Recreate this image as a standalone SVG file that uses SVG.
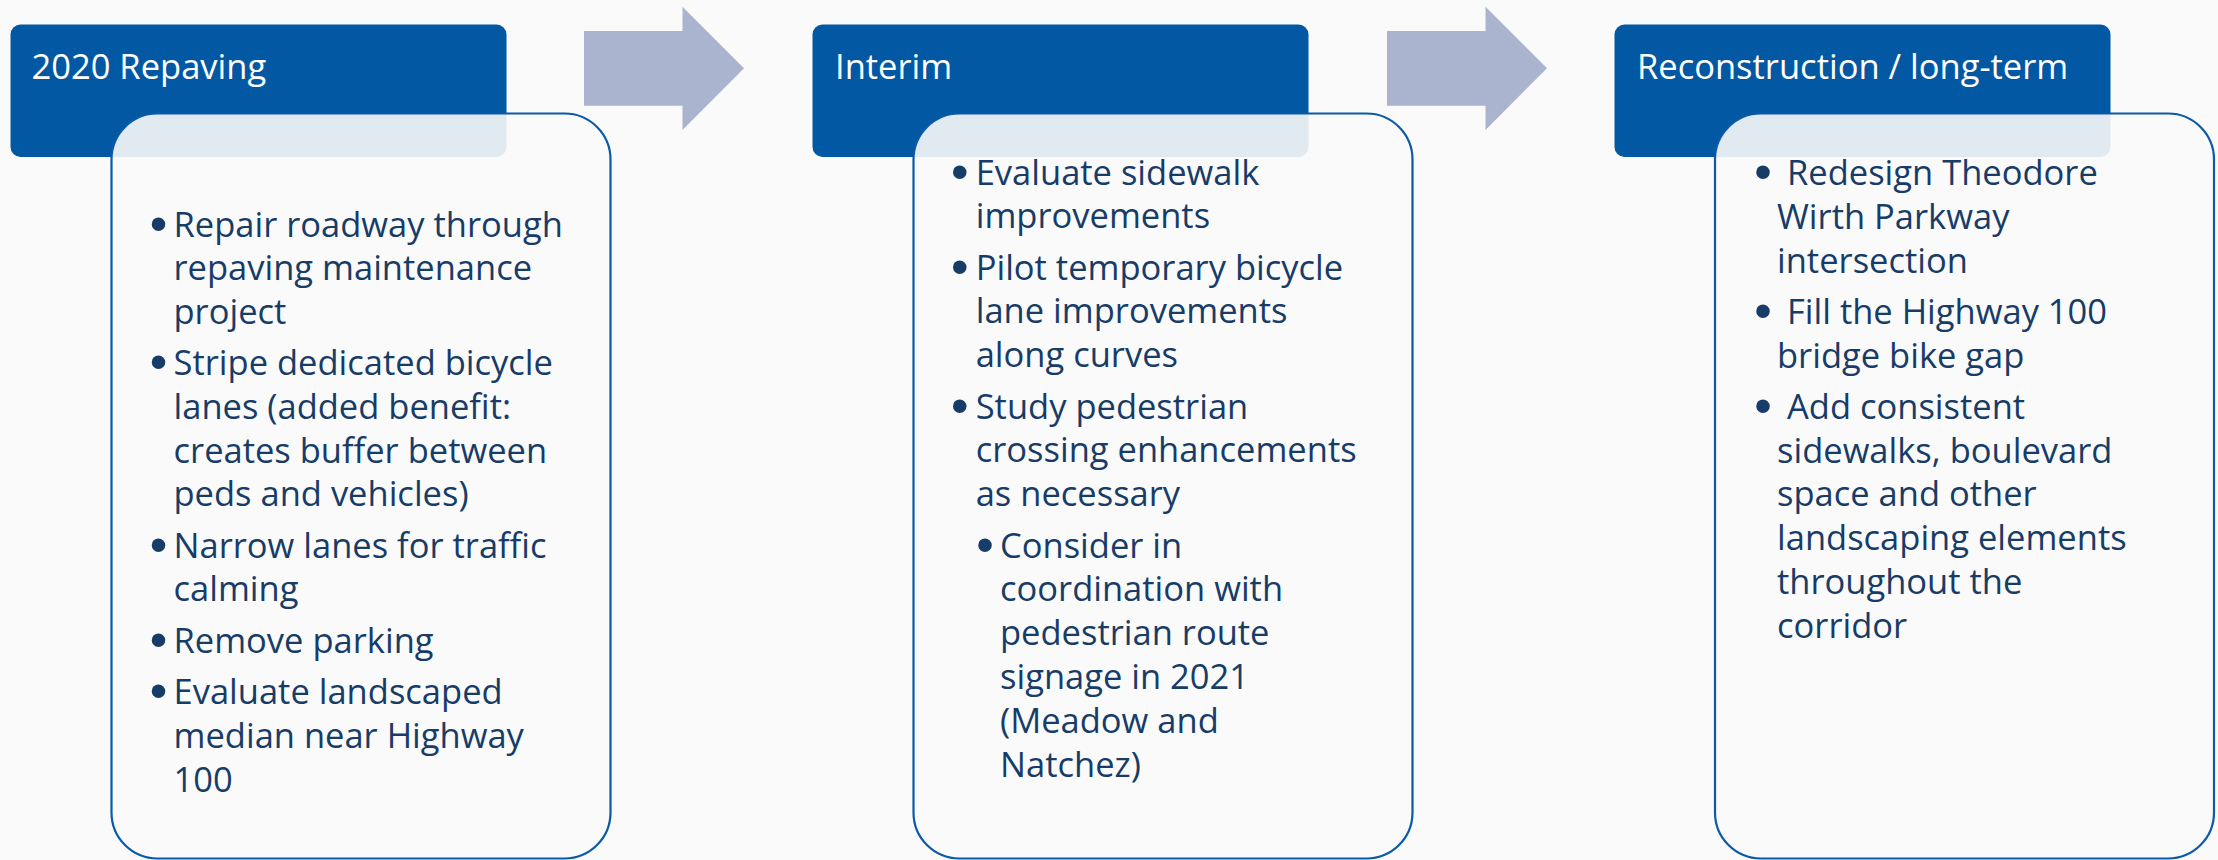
<svg xmlns="http://www.w3.org/2000/svg" width="2218" height="860" viewBox="0 0 2218 860">
<style>
.bg{fill:#fafafa}
.hdr{fill:#0358a4}
.body{fill:#fafafa;fill-opacity:0.9;stroke:#0a5aa8;stroke-width:2.2}
.arrow{fill:#aab4cf}
.ht{font-family:"Open Sans","Noto Sans","Liberation Sans",sans-serif;font-size:34.5px;fill:#ffffff}
.bt{font-family:"Open Sans","Noto Sans","Liberation Sans",sans-serif;font-size:34.5px;fill:#173c68}
.bu{font-family:"Liberation Sans",sans-serif;font-size:50px;fill:#173c68;text-anchor:middle}
</style>
<rect class="bg" x="0" y="0" width="2218" height="860"/>
<g id="connectors">
<polygon class="arrow" points="584,31 682.5,31 682.5,6.7 744,68.3 682.5,130 682.5,105.7 584,105.7"/>
<polygon class="arrow" points="1387,31 1485.5,31 1485.5,6.7 1547,68.3 1485.5,130 1485.5,105.7 1387,105.7"/>
</g>
<g id="node-repaving">
<rect class="hdr" x="10.5" y="24.5" width="496" height="132.5" rx="10"/>
<text class="ht" x="31.5" y="78.5">2020 Repaving</text>
<rect class="body" x="111.5" y="113.5" width="499" height="745" rx="46"/>
<text class="bu" x="158.5" y="240.5">•</text>
<text class="bt" x="173.5" y="236.5">Repair roadway through</text>
<text class="bt" x="173.5" y="280.2">repaving maintenance</text>
<text class="bt" x="173.5" y="323.9">project</text>
<text class="bu" x="158.5" y="379.1">•</text>
<text class="bt" x="173.5" y="375.1">Stripe dedicated bicycle</text>
<text class="bt" x="173.5" y="418.8">lanes (added benefit:</text>
<text class="bt" x="173.5" y="462.5">creates buffer between</text>
<text class="bt" x="173.5" y="506.2">peds and vehicles)</text>
<text class="bu" x="158.5" y="561.7">•</text>
<text class="bt" x="173.5" y="557.7">Narrow lanes for traffic</text>
<text class="bt" x="173.5" y="601.4">calming</text>
<text class="bu" x="158.5" y="656.9">•</text>
<text class="bt" x="173.5" y="652.9">Remove parking</text>
<text class="bu" x="158.5" y="708.4">•</text>
<text class="bt" x="173.5" y="704.4">Evaluate landscaped</text>
<text class="bt" x="173.5" y="748.1">median near Highway</text>
<text class="bt" x="173.5" y="791.8">100</text>
</g>
<g id="node-interim">
<rect class="hdr" x="812.5" y="24.5" width="496" height="132.5" rx="10"/>
<text class="ht" x="835" y="78.5">Interim</text>
<rect class="body" x="913.5" y="113.5" width="499" height="745" rx="46"/>
<text class="bu" x="959.7" y="188.5">•</text>
<text class="bt" x="975.7" y="184.5">Evaluate sidewalk</text>
<text class="bt" x="975.7" y="228.2">improvements</text>
<text class="bu" x="959.7" y="283.7">•</text>
<text class="bt" x="975.7" y="279.7">Pilot temporary bicycle</text>
<text class="bt" x="975.7" y="323.4">lane improvements</text>
<text class="bt" x="975.7" y="367.1">along curves</text>
<text class="bu" x="959.7" y="422.6">•</text>
<text class="bt" x="975.7" y="418.6">Study pedestrian</text>
<text class="bt" x="975.7" y="462.3">crossing enhancements</text>
<text class="bt" x="975.7" y="506">as necessary</text>
<text class="bu" x="985" y="561.5">•</text>
<text class="bt" x="1000" y="557.5">Consider in</text>
<text class="bt" x="1000" y="601.3">coordination with</text>
<text class="bt" x="1000" y="645.1">pedestrian route</text>
<text class="bt" x="1000" y="688.9">signage in 2021</text>
<text class="bt" x="1000" y="732.7">(Meadow and</text>
<text class="bt" x="1000" y="776.5">Natchez)</text>
</g>
<g id="node-reconstruction">
<rect class="hdr" x="1614.5" y="24.5" width="496" height="132.5" rx="10"/>
<text class="ht" x="1637" y="78.5">Reconstruction / long-term</text>
<rect class="body" x="1715" y="113.5" width="499" height="745" rx="46"/>
<text class="bu" x="1763" y="188.5">•</text>
<text class="bt" x="1787" y="184.5">Redesign Theodore</text>
<text class="bt" x="1777" y="228.5">Wirth Parkway</text>
<text class="bt" x="1777" y="272.5">intersection</text>
<text class="bu" x="1763" y="327.5">•</text>
<text class="bt" x="1787" y="323.5">Fill the Highway 100</text>
<text class="bt" x="1777" y="367.5">bridge bike gap</text>
<text class="bu" x="1763" y="422.5">•</text>
<text class="bt" x="1787" y="418.5">Add consistent</text>
<text class="bt" x="1777" y="462.5">sidewalks, boulevard</text>
<text class="bt" x="1777" y="506.3">space and other</text>
<text class="bt" x="1777" y="550.1">landscaping elements</text>
<text class="bt" x="1777" y="593.9">throughout the</text>
<text class="bt" x="1777" y="637.7">corridor</text>
</g>
</svg>
